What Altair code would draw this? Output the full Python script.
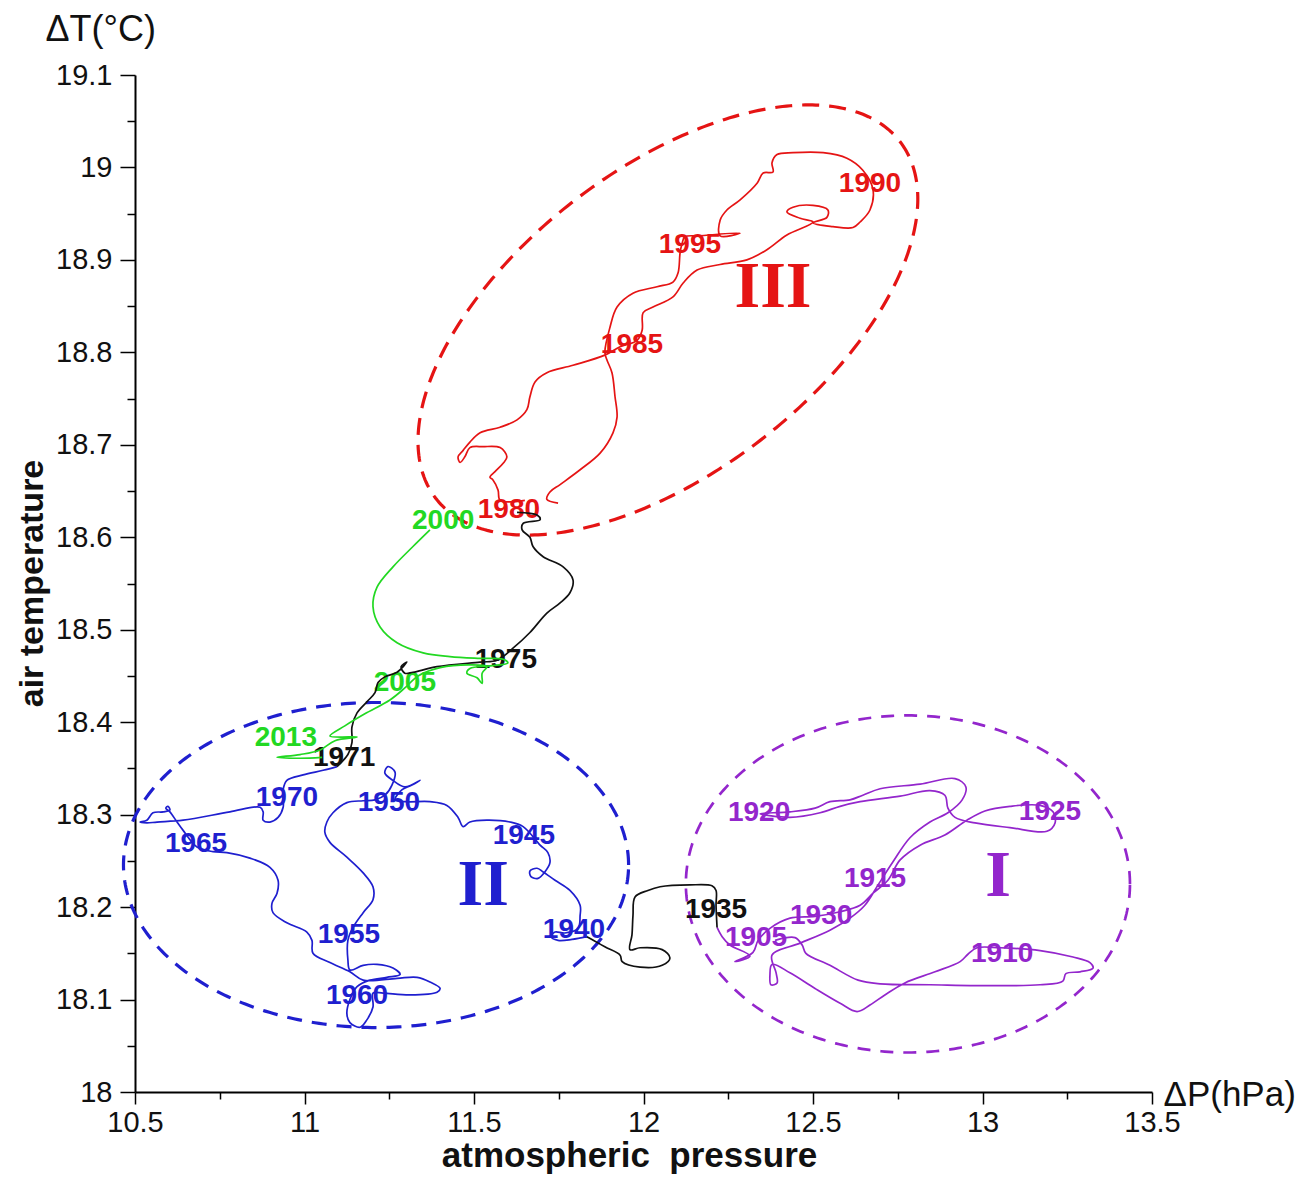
import numpy as np
import pandas as pd
import altair as alt

# ---------------- axes ----------------
X_DOMAIN = [10.5, 13.5]
Y_DOMAIN = [18.0, 19.1]
x_major = [10.5, 11, 11.5, 12, 12.5, 13, 13.5]
x_minor = [10.75, 11.25, 11.75, 12.25, 12.75, 13.25]
y_major = [18, 18.1, 18.2, 18.3, 18.4, 18.5, 18.6, 18.7, 18.8, 18.9, 19, 19.1]
y_minor = [18.05, 18.15, 18.25, 18.35, 18.45, 18.55, 18.65, 18.75, 18.85, 18.95, 19.05]

# ---------------- colours ----------------
PURPLE = "#9326cc"
BLUE = "#1f1fcf"
RED = "#e51414"
GREEN = "#22d822"
BLACK = "#111111"

# ---------------- trajectory (ΔP, ΔT) ----------------
purple_path = [
    (12.388, 18.164), (12.447, 18.167), (12.468, 18.159), (12.479, 18.150), (12.550, 18.137),
    (12.633, 18.121), (12.698, 18.117), (12.845, 18.116), (13.052, 18.115), (13.170, 18.116),
    (13.237, 18.120), (13.246, 18.128), (13.288, 18.130), (13.326, 18.134), (13.317, 18.140),
    (13.267, 18.146), (13.170, 18.153), (13.052, 18.156), (12.984, 18.156), (12.957, 18.149),
    (12.934, 18.141), (12.860, 18.130), (12.771, 18.118), (12.712, 18.105), (12.668, 18.094),
    (12.630, 18.087), (12.580, 18.096), (12.506, 18.112), (12.432, 18.129), (12.379, 18.138),
    (12.373, 18.127), (12.376, 18.116), (12.394, 18.118), (12.391, 18.129), (12.379, 18.148),
    (12.462, 18.161), (12.550, 18.175), (12.609, 18.188), (12.653, 18.202), (12.692, 18.224),
    (12.736, 18.249), (12.786, 18.275), (12.845, 18.292), (12.898, 18.302), (12.940, 18.316),
    (12.951, 18.330), (12.919, 18.339), (12.816, 18.333), (12.698, 18.328), (12.647, 18.321),
    (12.609, 18.316), (12.550, 18.314), (12.506, 18.307), (12.432, 18.303), (12.344, 18.301),
    (12.432, 18.297), (12.521, 18.302), (12.580, 18.309), (12.639, 18.314), (12.757, 18.320),
    (12.845, 18.326), (12.889, 18.321), (12.898, 18.307), (12.919, 18.297), (12.978, 18.291),
    (13.081, 18.286), (13.190, 18.282), (13.214, 18.291), (13.208, 18.303), (13.170, 18.310),
    (13.081, 18.309), (13.007, 18.304), (12.954, 18.294), (12.889, 18.278), (12.816, 18.267),
    (12.757, 18.251), (12.721, 18.229), (12.677, 18.215), (12.639, 18.202), (12.580, 18.195),
    (12.506, 18.190), (12.432, 18.188), (12.373, 18.177), (12.338, 18.164), (12.323, 18.151),
    (12.270, 18.141), (12.314, 18.147), (12.255, 18.159), (12.232, 18.168), (12.217, 18.178),
]

black_path_1930s = [
    (12.217, 18.178), (12.214, 18.202), (12.214, 18.218), (12.202, 18.223), (12.137, 18.224),
    (12.049, 18.222), (12.013, 18.218), (11.975, 18.211), (11.969, 18.191), (11.966, 18.170),
    (11.960, 18.154), (11.990, 18.156), (12.055, 18.154), (12.078, 18.145), (12.055, 18.137),
    (11.990, 18.135), (11.937, 18.141), (11.931, 18.148), (11.886, 18.157), (11.848, 18.165),
    (11.833, 18.168),
]

blue_path = [
    (11.833, 18.168), (11.789, 18.165), (11.748, 18.164), (11.727, 18.168), (11.739, 18.173),
    (11.768, 18.172), (11.807, 18.177), (11.813, 18.191), (11.813, 18.202), (11.783, 18.218),
    (11.739, 18.229), (11.704, 18.238), (11.686, 18.242), (11.665, 18.239), (11.668, 18.233),
    (11.689, 18.231), (11.709, 18.238), (11.724, 18.248), (11.718, 18.259), (11.695, 18.267),
    (11.645, 18.287), (11.606, 18.292), (11.538, 18.294), (11.488, 18.292), (11.468, 18.287),
    (11.453, 18.297), (11.420, 18.310), (11.370, 18.314), (11.302, 18.314), (11.267, 18.316),
    (11.288, 18.327), (11.311, 18.331), (11.341, 18.337), (11.296, 18.330), (11.261, 18.337),
    (11.237, 18.345), (11.246, 18.352), (11.267, 18.346), (11.258, 18.332), (11.237, 18.321),
    (11.208, 18.316), (11.173, 18.315), (11.125, 18.313), (11.084, 18.302), (11.066, 18.292),
    (11.060, 18.281), (11.075, 18.270), (11.125, 18.254), (11.173, 18.237), (11.202, 18.222),
    (11.202, 18.208), (11.173, 18.194), (11.143, 18.178), (11.128, 18.164), (11.128, 18.143),
    (11.134, 18.132), (11.173, 18.137), (11.214, 18.138), (11.261, 18.134), (11.282, 18.127),
    (11.243, 18.124), (11.193, 18.121), (11.155, 18.114), (11.134, 18.100), (11.125, 18.085),
    (11.134, 18.075), (11.164, 18.070), (11.184, 18.078), (11.202, 18.092), (11.202, 18.107),
    (11.232, 18.107), (11.311, 18.105), (11.391, 18.108), (11.400, 18.112), (11.370, 18.119),
    (11.332, 18.124), (11.273, 18.123), (11.173, 18.121), (11.134, 18.130), (11.075, 18.140),
    (11.025, 18.150), (11.022, 18.164), (11.007, 18.173), (10.948, 18.183), (10.907, 18.194),
    (10.904, 18.204), (10.919, 18.215), (10.922, 18.229), (10.898, 18.243), (10.839, 18.253),
    (10.771, 18.259), (10.730, 18.260), (10.683, 18.265), (10.642, 18.283), (10.624, 18.292),
    (10.603, 18.303), (10.591, 18.307), (10.597, 18.309), (10.603, 18.305), (10.583, 18.303),
    (10.553, 18.302), (10.535, 18.294), (10.515, 18.292), (10.535, 18.291), (10.565, 18.292),
    (10.642, 18.294), (10.780, 18.303), (10.869, 18.308), (10.878, 18.303), (10.878, 18.294),
    (10.898, 18.292), (10.922, 18.297), (10.937, 18.308), (10.937, 18.327), (10.948, 18.337),
    (10.996, 18.343), (11.055, 18.348), (11.096, 18.352),
]

black_path_1970s = [
    (11.096, 18.352), (11.128, 18.365), (11.140, 18.378), (11.140, 18.395), (11.155, 18.410),
    (11.184, 18.422), (11.208, 18.432), (11.217, 18.443), (11.237, 18.449), (11.273, 18.454),
    (11.302, 18.465), (11.285, 18.460), (11.296, 18.453), (11.320, 18.454), (11.391, 18.460),
    (11.518, 18.465), (11.568, 18.467), (11.615, 18.480), (11.665, 18.497), (11.715, 18.518),
    (11.754, 18.529), (11.783, 18.540), (11.792, 18.554), (11.763, 18.568), (11.704, 18.579),
    (11.674, 18.590), (11.665, 18.600), (11.642, 18.608), (11.645, 18.615), (11.695, 18.619),
    (11.686, 18.624), (11.627, 18.627),
]

red_path = [
    (11.748, 18.637), (11.715, 18.641), (11.724, 18.649), (11.754, 18.657), (11.813, 18.673),
    (11.872, 18.691), (11.910, 18.713), (11.922, 18.730), (11.916, 18.752), (11.907, 18.778),
    (11.892, 18.792), (11.886, 18.800), (11.901, 18.827), (11.922, 18.849), (11.969, 18.864),
    (12.040, 18.871), (12.087, 18.876), (12.102, 18.886), (12.108, 18.908), (12.114, 18.918),
    (12.122, 18.925), (12.167, 18.926), (12.226, 18.928), (12.285, 18.929), (12.226, 18.926),
    (12.226, 18.943), (12.246, 18.954), (12.285, 18.965), (12.335, 18.983), (12.353, 18.994),
    (12.382, 18.995), (12.379, 19.005), (12.394, 19.014), (12.441, 19.016), (12.530, 19.016),
    (12.600, 19.010), (12.647, 18.997), (12.677, 18.976), (12.668, 18.954), (12.639, 18.941),
    (12.618, 18.935), (12.559, 18.936), (12.500, 18.940), (12.541, 18.946), (12.544, 18.954),
    (12.500, 18.959), (12.441, 18.957), (12.423, 18.952), (12.462, 18.945), (12.500, 18.941),
    (12.423, 18.927), (12.364, 18.911), (12.305, 18.900), (12.226, 18.895), (12.158, 18.889),
    (12.117, 18.875), (12.087, 18.860), (12.028, 18.849), (11.999, 18.843), (11.996, 18.824),
    (11.981, 18.813), (11.931, 18.806), (11.886, 18.797), (11.792, 18.786), (11.715, 18.778),
    (11.680, 18.768), (11.665, 18.752), (11.656, 18.738), (11.627, 18.727), (11.577, 18.719),
    (11.518, 18.713), (11.488, 18.703), (11.468, 18.694), (11.453, 18.687), (11.459, 18.681),
    (11.473, 18.687), (11.488, 18.697), (11.527, 18.698), (11.577, 18.697), (11.597, 18.687),
    (11.586, 18.680), (11.562, 18.671), (11.547, 18.665), (11.556, 18.662), (11.571, 18.651),
    (11.577, 18.640), (11.650, 18.640),
]

green_path = [
    (11.370, 18.608), (11.320, 18.590), (11.261, 18.568), (11.214, 18.546), (11.202, 18.525),
    (11.223, 18.503), (11.273, 18.486), (11.350, 18.475), (11.429, 18.471), (11.518, 18.469),
    (11.586, 18.468), (11.600, 18.464), (11.547, 18.461), (11.488, 18.458), (11.479, 18.453),
    (11.509, 18.448), (11.524, 18.442), (11.524, 18.453), (11.538, 18.460), (11.488, 18.462),
    (11.400, 18.459), (11.335, 18.450), (11.296, 18.437), (11.252, 18.424), (11.178, 18.409),
    (11.119, 18.396), (11.075, 18.385), (11.155, 18.384), (11.090, 18.380), (11.046, 18.370),
    (10.987, 18.365), (10.919, 18.362), (10.987, 18.361), (11.052, 18.362),
]

# ---------------- year labels ----------------
year_text = ["1905", "1910", "1915", "1920", "1925", "1930", "1935", "1940", "1945", "1950",
             "1955", "1960", "1965", "1970", "1971", "1975", "1980", "1985", "1990", "1995",
             "2000", "2005", "2013"]
year_x = [12.332, 13.058, 12.683, 12.341, 13.199, 12.524, 12.214, 11.795, 11.647, 11.249,
          11.131, 11.155, 10.680, 10.948, 11.117, 11.594, 11.603, 11.966, 12.668, 12.137,
          11.409, 11.296, 10.945]
year_y = [18.167, 18.149, 18.230, 18.302, 18.303, 18.190, 18.197, 18.175, 18.277, 18.313,
          18.170, 18.104, 18.268, 18.318, 18.361, 18.467, 18.630, 18.808, 18.982, 18.916,
          18.618, 18.442, 18.383]
year_color = [PURPLE] * 6 + [BLACK] + [BLUE] * 7 + [BLACK, BLACK] + [RED] * 4 + [GREEN] * 3

# ---------------- regime labels and ellipses ----------------
regime_text = ["III", "II", "I"]
regime_x = [12.382, 11.527, 13.046]
regime_y = [18.871, 18.224, 18.234]
regime_color = [RED, BLUE, PURPLE]

# centre, semi-axis vectors (data units) of the dashed ellipses
ellipse_names = ["III", "II", "I"]
ellipse_centre = [(12.072, 18.835), (11.211, 18.2455), (12.780, 18.225)]
ellipse_axis_a = [(0.685, 0.1928), (0.745, 0.0), (0.655, 0.0)]
ellipse_axis_b = [(0.2724, -0.1302), (0.0, 0.1758), (0.0, 0.1823)]
ellipse_color = [RED, BLUE, PURPLE]
ellipse_dash = [[17, 10], [15, 10], [13, 10]]
ellipse_width = [3.2, 3.2, 2.7]

FONT = "Liberation Sans"

xs = alt.Scale(domain=X_DOMAIN, nice=False, zero=False)
ys = alt.Scale(domain=Y_DOMAIN, nice=False, zero=False)

# ---- ellipse layers
ell_layers = []
tt = np.linspace(0, 2 * np.pi, 361)
for name, c, a, b, col, dash, w in zip(ellipse_names, ellipse_centre, ellipse_axis_a,
                                        ellipse_axis_b, ellipse_color, ellipse_dash, ellipse_width):
    df = pd.DataFrame({
        "x": c[0] + a[0] * np.cos(tt) + b[0] * np.sin(tt),
        "y": c[1] + a[1] * np.cos(tt) + b[1] * np.sin(tt),
        "i": np.arange(len(tt)),
    })
    ell_layers.append(
        alt.Chart(df).mark_line(color=col, strokeDash=dash, strokeWidth=w)
        .encode(x=alt.X("x:Q", scale=xs, axis=None),
                y=alt.Y("y:Q", scale=ys, axis=None),
                order="i:Q")
    )

# ---- trajectory
segments = [("p", purple_path, PURPLE), ("k1", black_path_1930s, BLACK), ("b", blue_path, BLUE),
            ("k2", black_path_1970s, BLACK), ("r", red_path, RED), ("g", green_path, GREEN)]
rows = []
for name, path, col in segments:
    for i, (px, py) in enumerate(path):
        rows.append({"x": px, "y": py, "seg": name, "i": i})
traj_df = pd.DataFrame(rows)

major_x_test = "abs(datum.value*2-round(datum.value*2))<0.001"
major_y_test = "abs(datum.value*10-round(datum.value*10))<0.001"

x_axis = alt.Axis(
    values=sorted(x_major + x_minor), grid=False,
    labelExpr=f"{major_x_test} ? ''+datum.value : ''",
    tickSize={"condition": {"test": major_x_test, "value": 12}, "value": 7},
    tickWidth=1.5, tickColor="black", domainColor="black", domainWidth=2,
    labelFont=FONT, labelFontSize=29, labelColor="#111111", labelPadding=4,
    labelFlush=False, labelOverlap=False,
    title="atmospheric\u00a0 pressure", titleFont=FONT, titleFontSize=35, titleFontWeight="bold",
    titleColor="#111111", titleAngle=0, titleAlign="center", titleBaseline="alphabetic",
    titleX=494, titleY=74,
)
y_axis = alt.Axis(
    values=sorted(y_major + y_minor), grid=False,
    labelExpr=f"{major_y_test} ? ''+datum.value : ''",
    tickSize={"condition": {"test": major_y_test, "value": 15}, "value": 8},
    tickWidth=1.5, tickColor="black", domainColor="black", domainWidth=2,
    labelFont=FONT, labelFontSize=29, labelColor="#111111", labelPadding=8,
    labelFlush=False, labelOverlap=False,
    title="air temperature", titleFont=FONT, titleFontSize=34, titleFontWeight="bold",
    titleColor="#111111", titleAngle=270, titleAlign="center", titleBaseline="alphabetic",
    titleX=-93, titleY=508,
)

traj = alt.Chart(traj_df).mark_line(strokeWidth=1.7, interpolate="catmull-rom").encode(
    x=alt.X("x:Q", scale=xs, axis=x_axis),
    y=alt.Y("y:Q", scale=ys, axis=y_axis),
    color=alt.Color("seg:N", scale=alt.Scale(domain=[s[0] for s in segments],
                                             range=[s[2] for s in segments]), legend=None),
    order="i:Q",
)

# ---- year labels
years_df = pd.DataFrame({"t": year_text, "x": year_x, "y": year_y, "c": year_color})
years = alt.Chart(years_df).mark_text(font=FONT, fontSize=28, fontWeight="bold",
                                      align="center", baseline="middle").encode(
    x=alt.X("x:Q", scale=xs, axis=None),
    y=alt.Y("y:Q", scale=ys, axis=None),
    text="t:N",
    color=alt.Color("c:N", scale=None),
)

# ---- regime numerals (carry the ΔP / ΔT unit titles)
reg_df = pd.DataFrame({"t": regime_text, "x": regime_x, "y": regime_y, "c": regime_color})
regimes = alt.Chart(reg_df).mark_text(font="Liberation Serif", fontSize=66, fontWeight="bold",
                                      align="center", baseline="middle").encode(
    x=alt.X("x:Q", scale=xs, axis=alt.Axis(
        orient="bottom", labels=False, ticks=False, domain=False, grid=False,
        title="ΔP(hPa)", titleFont=FONT, titleFontSize=35, titleFontWeight="normal",
        titleColor="#111111", titleAngle=0, titleAlign="left", titleBaseline="alphabetic",
        titleX=1028, titleY=13)),
    y=alt.Y("y:Q", scale=ys, axis=alt.Axis(
        orient="left", labels=False, ticks=False, domain=False, grid=False,
        title="ΔT(°C)", titleFont=FONT, titleFontSize=36, titleFontWeight="normal",
        titleColor="#111111", titleAngle=0, titleAlign="left", titleBaseline="alphabetic",
        titleX=-90, titleY=-35)),
    text="t:N",
    color=alt.Color("c:N", scale=None),
)

chart = alt.layer(*ell_layers, years, traj, regimes).resolve_axis(
    x="independent", y="independent"
).properties(
    width=1017, height=1017,
    padding={"left": 127, "top": 67, "right": 146, "bottom": 84},
    autosize=alt.AutoSizeParams(type="none"),
    background="white",
).configure_view(stroke=None)

chart.save("out.html", embed_options={"renderer": "svg", "actions": False})
